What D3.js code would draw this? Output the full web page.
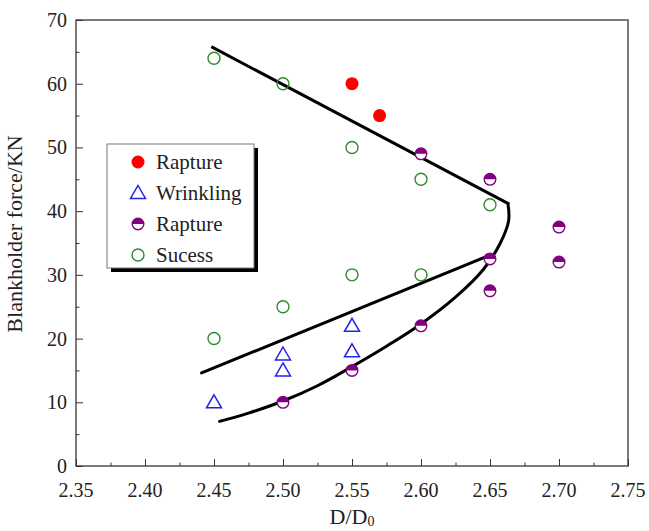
<!DOCTYPE html>
<html>
<head>
<meta charset="utf-8">
<script src="https://cdn.jsdelivr.net/npm/d3@7"></script>
<style>
  body { margin: 0; background: #fff; }
  svg text { font-family: "Liberation Serif", "DejaVu Serif", "Times New Roman", serif; }
</style>
</head>
<body>
<svg id="chart" width="649" height="531" font-family="Liberation Serif, DejaVu Serif, serif"></svg>
<script>
// data
const ruptureRed = [[2.55, 60], [2.57, 55]]
const wrinkling = [[2.45, 10], [2.50, 17.5], [2.50, 15], [2.55, 22], [2.55, 18]]
const rupturePurple = [[2.60, 49], [2.65, 45], [2.70, 37.5], [2.65, 32.5], [2.70, 32], [2.65, 27.5], [2.60, 22], [2.55, 15], [2.50, 10]]
const success = [[2.45, 64], [2.50, 60], [2.55, 50], [2.60, 45], [2.65, 41], [2.45, 20], [2.50, 25], [2.55, 30], [2.60, 30]]
const upperLine = [[2.449, 65.7], [2.663, 41.2]]
const lowerLine = [[2.441, 14.6], [2.65, 33.1]]
const boundaryCurve = [[2.663, 41.2], [2.6635, 38.5], [2.6575, 35], [2.645, 30.8], [2.625, 26.5],
  [2.60, 22.3], [2.575, 18.8], [2.55, 15.6], [2.525, 12.6], [2.50, 10.2], [2.475, 8.3], [2.454, 7.0]]
const xTicks = [2.35, 2.40, 2.45, 2.50, 2.55, 2.60, 2.65, 2.70, 2.75]
const yTicks = [0, 10, 20, 30, 40, 50, 60, 70]
const legendNames = ['Rapture', 'Wrinkling', 'Rapture', 'Sucess']

const mLeft = 76, mRight = 628, mTop = 20, mBottom = 466
const serif = '"Liberation Serif", "DejaVu Serif", serif'
const svg = d3.select('#chart')

let xScale = d3.scaleLinear().domain([2.35, 2.75]).range([mLeft, mRight])
let yScale = d3.scaleLinear().domain([0, 70]).range([mBottom, mTop])

// frame
svg.append('rect')
  .attr('x', mLeft).attr('y', mTop)
  .attr('width', mRight - mLeft).attr('height', mBottom - mTop)
  .style('fill', 'none').style('stroke', '#444').style('stroke-width', 1.4)

// axes, ticks pointing inward
let xAxis = svg.append('g')
  .attr('transform', `translate(0, ${mBottom})`)
  .call(d3.axisTop(xScale).tickValues(d3.range(2.35, 2.7501, 0.025)).tickSize(6).tickFormat(''))
xAxis.select('.domain').remove()
xAxis.selectAll('.tick line').style('stroke', '#333')
  .attr('y2', (d, i) => i % 2 ? -3.5 : -7)
svg.append('g').selectAll('text').data(xTicks).enter().append('text')
  .attr('x', d => xScale(d)).attr('y', mBottom + 31)
  .style('font-family', serif)
  .style('text-anchor', 'middle').style('font-size', '20px').style('fill', '#222')
  .text(d => d.toFixed(2))

let yAxis = svg.append('g')
  .attr('transform', `translate(${mLeft}, 0)`)
  .call(d3.axisRight(yScale).tickValues(d3.range(0, 71, 5)).tickSize(6).tickFormat(''))
yAxis.select('.domain').remove()
yAxis.selectAll('.tick line').style('stroke', '#333')
  .attr('x2', (d, i) => i % 2 ? 3.5 : 7)
svg.append('g').selectAll('text').data(yTicks).enter().append('text')
  .attr('x', mLeft - 9).attr('y', d => yScale(d) + 7)
  .style('font-family', serif)
  .style('text-anchor', 'end').style('font-size', '20px').style('fill', '#222')
  .text(d => d)

// axis titles
svg.append('text')
  .attr('transform', `translate(22, 234) rotate(-90)`)
  .style('font-family', serif)
  .style('text-anchor', 'middle').style('font-size', '22px').style('fill', '#222')
  .text('Blankholder force/KN')
let xt = svg.append('text')
  .attr('x', (mLeft + mRight) / 2).attr('y', 524)
  .style('font-family', serif)
  .style('text-anchor', 'middle').style('font-size', '22px').style('fill', '#222')
xt.append('tspan').text('D/D')
xt.append('tspan').text('0').style('font-size', '14px').attr('dy', 2)

// boundary lines
let lineGen = d3.line().x(d => xScale(d[0])).y(d => yScale(d[1]))
let curveGen = d3.line().x(d => xScale(d[0])).y(d => yScale(d[1])).curve(d3.curveCatmullRom.alpha(0.5))
svg.append('path').attr('d', lineGen(upperLine))
  .style('stroke', '#000').style('stroke-width', 3).style('fill', 'none').style('stroke-linecap', 'square')
svg.append('path').attr('d', lineGen(lowerLine))
  .style('stroke', '#000').style('stroke-width', 3).style('fill', 'none').style('stroke-linecap', 'round')
svg.append('path').attr('d', curveGen(boundaryCurve))
  .style('stroke', '#000').style('stroke-width', 3).style('fill', 'none').style('stroke-linecap', 'round')

// markers
const green = '#2e8b2e', blue = '#2323e6', purple = '#800080', red = '#ff0000'
let drawRed = (g, x, y) => g.append('circle').attr('cx', x).attr('cy', y).attr('r', 6.5).style('fill', red)
let drawTri = (g, x, y) => g.append('path')
  .attr('d', `M${x},${y - 7.5} L${x + 7.5},${y + 5.5} L${x - 7.5},${y + 5.5} Z`)
  .style('fill', 'none').style('stroke', blue).style('stroke-width', 1.5)
let drawHalf = (g, x, y) => {
  g.append('circle').attr('cx', x).attr('cy', y).attr('r', 5.8).style('fill', '#fff').style('stroke', purple).style('stroke-width', 1.4)
  g.append('path').attr('d', `M${x - 5.8},${y} A5.8,5.8 0 0 1 ${x + 5.8},${y} Z`).style('fill', purple)
}
let drawOpen = (g, x, y) => g.append('circle').attr('cx', x).attr('cy', y).attr('r', 6)
  .style('fill', 'none').style('stroke', green).style('stroke-width', 1.4)

let pts = svg.append('g')
success.forEach(d => drawOpen(pts, xScale(d[0]), yScale(d[1])))
wrinkling.forEach(d => drawTri(pts, xScale(d[0]), yScale(d[1])))
rupturePurple.forEach(d => drawHalf(pts, xScale(d[0]), yScale(d[1])))
ruptureRed.forEach(d => drawRed(pts, xScale(d[0]), yScale(d[1])))

// legend with shadow
let lg = svg.append('g')
lg.append('rect').attr('x', 111).attr('y', 148).attr('width', 147).attr('height', 124).style('fill', '#000')
lg.append('rect').attr('x', 107).attr('y', 144).attr('width', 147).attr('height', 124)
  .style('fill', '#fff').style('stroke', '#777').style('stroke-width', 1)
const drawers = [drawRed, drawTri, drawHalf, drawOpen]
legendNames.forEach((name, i) => {
  let y = 162 + i * 31
  drawers[i](lg, 138, y)
  lg.append('text').attr('x', 156).attr('y', y + 7)
    .style('font-family', serif)
    .style('font-size', '21px').style('fill', '#222').text(name)
})
</script>
</body>
</html>
